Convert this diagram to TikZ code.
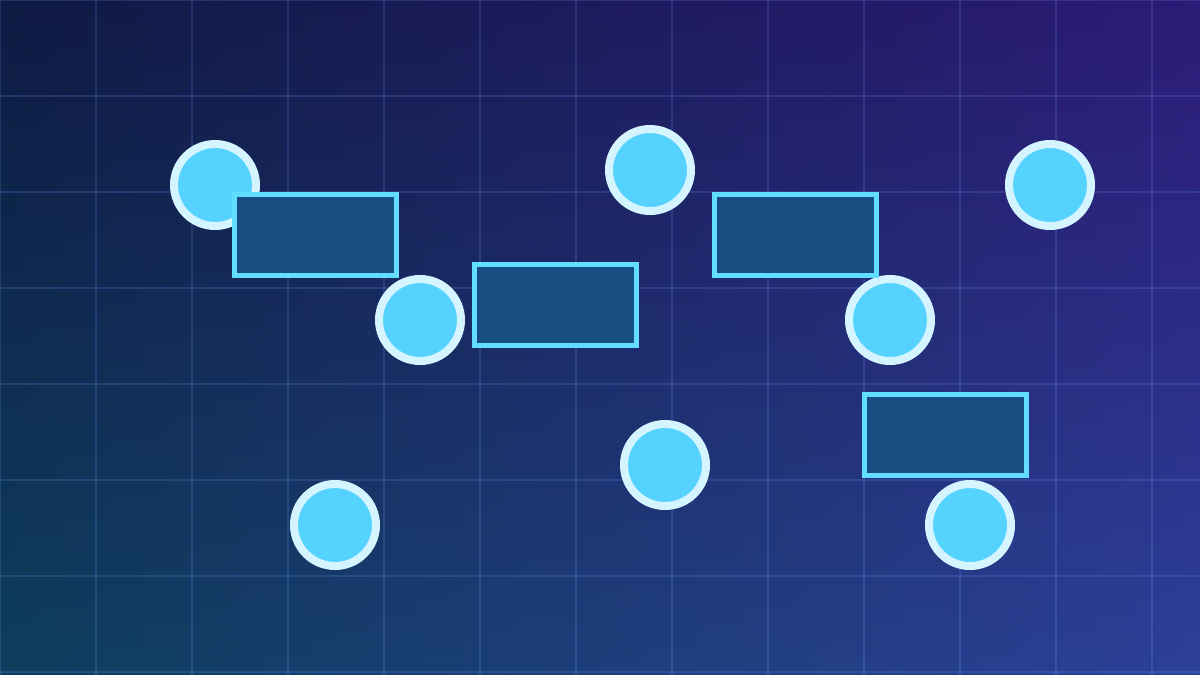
\documentclass[tikz,border=0pt]{standalone}
\usepackage{tikz}
\usetikzlibrary{calc, shadings}

\definecolor{bgTL}{RGB}{14,26,66}
\definecolor{bgTR}{RGB}{44,26,118}
\definecolor{bgBL}{RGB}{14,62,92}
\definecolor{bgBR}{RGB}{44,64,152}
\definecolor{gridline}{RGB}{100,150,255}
\definecolor{dotfill}{RGB}{85,211,254}
\definecolor{dotring}{RGB}{212,245,255}
\definecolor{boxfill}{RGB}{23,79,130}
\definecolor{boxline}{RGB}{98,220,255}

\tikzset{
	dot/.style={circle, draw=dotring, fill=dotfill, line width=8pt, minimum size=82pt, inner sep=0pt},
	blockbox/.style={rectangle, draw=boxline, fill=boxfill, line width=5pt, minimum width=162pt, minimum height=81pt, inner sep=0pt}
}

\begin{document}
\begin{tikzpicture}[x=1pt, y=-1pt]
	\useasboundingbox (0,0) rectangle (1200,675);
	\shade [upper left=bgTL, upper right=bgTR, lower left=bgBL, lower right=bgBR] (0,0) rectangle (1200,675);
	
	\foreach \x in {0,96,...,1152}
		\draw [gridline, opacity=0.2, line width=2pt] (\x,0) -- (\x,675);
	\foreach \y in {0,96,...,672}
		\draw [gridline, opacity=0.2, line width=2pt] (0,\y) -- (1200,\y);
	
	\node [dot] (C1) at (215,185) {};
	\node [dot] (C2) at (420,320) {};
	\node [dot] (C3) at (650,170) {};
	\node [dot] (C4) at (890,320) {};
	\node [dot] (C5) at (1050,185) {};
	\node [dot] (C6) at (665,465) {};
	\node [dot] (C7) at (335,525) {};
	\node [dot] (C8) at (970,525) {};
	
	\node [blockbox] (B1) at (315.5,235) {};
	\node [blockbox] (B2) at (555,305) {};
	\node [blockbox] (B3) at (795,235) {};
	\node [blockbox] (B4) at (945,435) {};
	
\end{tikzpicture}
\end{document}
